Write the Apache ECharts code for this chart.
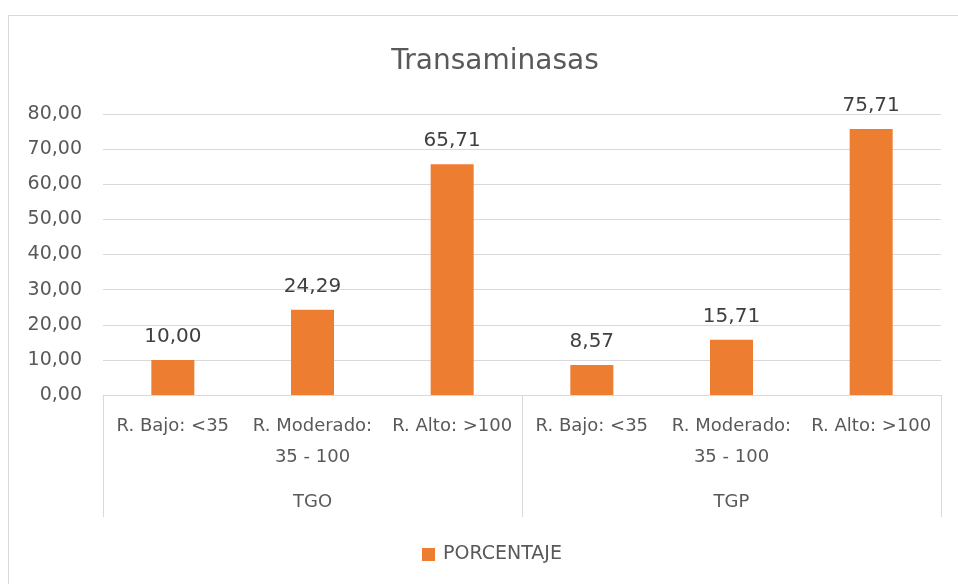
<!DOCTYPE html>
<html>
<head>
<meta charset="utf-8">
<script src="https://cdn.jsdelivr.net/npm/echarts@6/dist/echarts.min.js"></script>
<style>html,body{margin:0;padding:0;background:#fff}#c{width:958px;height:584px}</style>
</head>
<body>
<div id="c"></div>
<script>
var categories = ['R. Bajo: <35', 'R. Moderado:\n35 - 100', 'R. Alto: >100', 'R. Bajo: <35', 'R. Moderado:\n35 - 100', 'R. Alto: >100'];
var groups = ['TGO', 'TGP'];
var porcentaje = [10.00, 24.29, 65.71, 8.57, 15.71, 75.71];
var seriesName = 'PORCENTAJE';
var titleText = 'Transaminasas';

function fmt(v){ return Number(v).toFixed(2).replace('.', ','); }
var FONT = 'DejaVu Sans';
var chart = echarts.init(document.getElementById('c'));
chart.setOption({
  animation: false,
  textStyle: { fontFamily: FONT },
  graphic: [{ type: 'rect', shape: { x: 8.5, y: 15.5, width: 1000, height: 700 }, style: { fill: 'none', stroke: '#D9D9D9', lineWidth: 1 }, silent: true, z: -10 }],
  title: { text: titleText, left: 490, top: 43, textAlign: 'center',
    textStyle: { fontFamily: FONT, fontSize: 28, fontWeight: 'normal', color: '#595959' } },
  legend: { data: [seriesName], left: 417, top: 540, icon: 'rect', itemWidth: 13, itemHeight: 13, itemGap: 8,
    textStyle: { fontFamily: FONT, fontSize: 19, color: '#595959', padding: [0, 0, 0, 3] } },
  grid: { left: 103, right: 17, top: 114, bottom: 189, containLabel: false },
  xAxis: [
    { type: 'category', data: categories, position: 'bottom',
      axisLine: { show: false }, axisTick: { show: false },
      axisLabel: { interval: 0, margin: 16, color: '#595959', fontSize: 18, fontFamily: FONT, lineHeight: 31, verticalAlign: 'top' } },
    { type: 'category', data: groups, position: 'bottom',
      axisLine: { show: true, lineStyle: { color: '#D9D9D9', width: 1 } },
      axisTick: { show: true, length: 122, lineStyle: { color: '#D9D9D9', width: 1 } },
      axisLabel: { margin: 97, color: '#595959', fontSize: 18, fontFamily: FONT, lineHeight: 20, verticalAlign: 'top' } }
  ],
  yAxis: { type: 'value', min: 0, max: 80, interval: 10,
    axisLine: { show: false }, axisTick: { show: false },
    axisLabel: { formatter: fmt, margin: 21, color: '#595959', fontSize: 19, fontFamily: FONT },
    splitLine: { lineStyle: { color: '#D9D9D9', width: 1 } } },
  series: [{ name: seriesName, type: 'bar', xAxisIndex: 0, data: porcentaje, barWidth: 43,
    itemStyle: { color: '#ED7D31' },
    label: { show: true, position: 'top', distance: 13, formatter: function(p){ return fmt(p.value); },
      color: '#404040', fontSize: 20, fontFamily: FONT } }]
});
</script>
</body>
</html>
